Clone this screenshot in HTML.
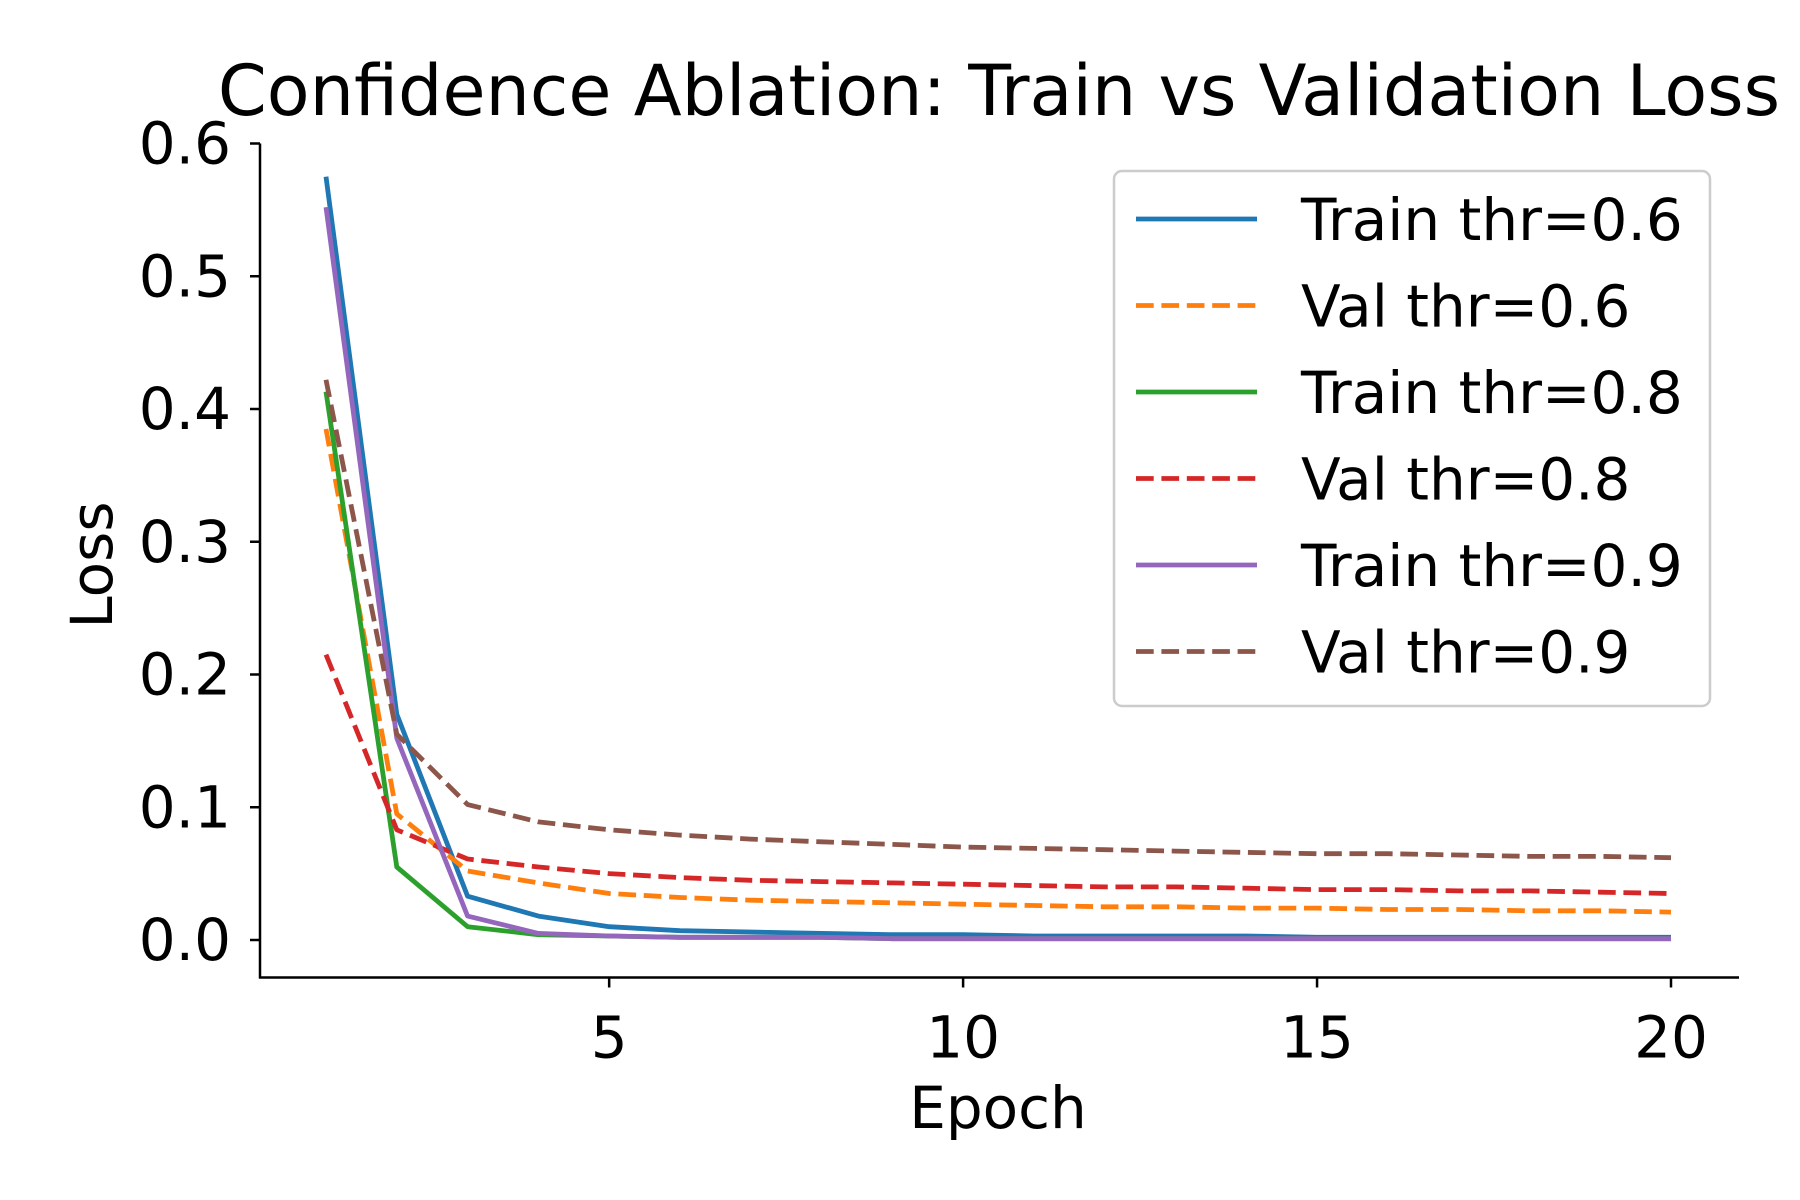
<!DOCTYPE html>
<html><head><meta charset="utf-8"><style>
html,body{margin:0;padding:0;background:#fff}
svg{display:block;font-family:"DejaVu Sans","Liberation Sans",sans-serif}
</style></head><body>
<svg id="chart" width="1800" height="1200" viewBox="0 0 1800 1200" xmlns="http://www.w3.org/2000/svg">
<rect width="1800" height="1200" fill="#fff"/>
<text x="999" y="115" font-size="70" text-anchor="middle" fill="#000">Confidence Ablation: Train vs Validation Loss</text>
<g id="axes"></g>
<g id="lines"></g>
<g id="legend"></g>
</svg>
<script>
const epochs = [1,2,3,4,5,6,7,8,9,10,11,12,13,14,15,16,17,18,19,20];
const train06 = [0.575,0.17,0.033,0.018,0.010,0.007,0.006,0.005,0.004,0.004,0.003,0.003,0.003,0.003,0.002,0.002,0.002,0.002,0.002,0.002];
const val06 = [0.385,0.095,0.052,0.043,0.035,0.032,0.030,0.029,0.028,0.027,0.026,0.025,0.025,0.024,0.024,0.023,0.023,0.022,0.022,0.021];
const train08 = [0.413,0.055,0.010,0.004,0.003,0.002,0.002,0.002,0.001,0.001,0.001,0.001,0.001,0.001,0.001,0.001,0.001,0.001,0.001,0.001];
const val08 = [0.215,0.083,0.061,0.055,0.050,0.047,0.045,0.044,0.043,0.042,0.041,0.040,0.040,0.039,0.038,0.038,0.037,0.037,0.036,0.035];
const train09 = [0.552,0.152,0.018,0.005,0.003,0.002,0.002,0.002,0.001,0.001,0.001,0.001,0.001,0.001,0.001,0.001,0.001,0.001,0.001,0.001];
const val09 = [0.422,0.155,0.102,0.089,0.083,0.079,0.076,0.074,0.072,0.070,0.069,0.068,0.067,0.066,0.065,0.065,0.064,0.063,0.063,0.062];
const xTicks = [5,10,15,20];
const yTicks = [0.0,0.1,0.2,0.3,0.4,0.5,0.6];
const seriesNames = ["Train thr=0.6","Val thr=0.6","Train thr=0.8","Val thr=0.8","Train thr=0.9","Val thr=0.9"];

const NS = "http://www.w3.org/2000/svg";
const X0=260, X1=1739, Y0=977.5, Y1=143.5;
function xs(v){ return 326 + (v-1)*(1671-326)/19; }
function ys(v){ return 940 - v*(940-143.5)/0.6; }
function mk(tag, attrs, parent){ const e=document.createElementNS(NS,tag); for(const k in attrs) e.setAttribute(k,attrs[k]); parent.appendChild(e); return e; }

const axes=document.getElementById('axes');
let e;
e=mk('line',{x1:X0,y1:Y1,x2:X0,y2:Y0+1,stroke:'#000','stroke-width':2.5},axes);


e=mk('line',{x1:X0-1,y1:Y0,x2:X1,y2:Y0,stroke:'#000','stroke-width':2.5},axes);


yTicks.forEach(t=>{
  const y=ys(t);
  mk('line',{x1:X0-10,y1:y,x2:X0,y2:y,stroke:'#000','stroke-width':2.5},axes);
  const tx=mk('text',{x:X0-29,y:y+20,'font-size':58,'text-anchor':'end',fill:'#000'},axes);
  tx.textContent=t.toFixed(1);
  
  
});
xTicks.forEach(t=>{
  const x=xs(t);
  mk('line',{x1:x,y1:Y0,x2:x,y2:Y0+10,stroke:'#000','stroke-width':2.5},axes);
  const tx=mk('text',{x:x,y:Y0+80,'font-size':58,'text-anchor':'middle',fill:'#000'},axes);
  tx.textContent=t;
  
  
});
e=mk('text',{x:998,y:1128,'font-size':58,'text-anchor':'middle',fill:'#000'},axes);
e.textContent='Epoch';


e=mk('text',{x:0,y:0,'font-size':58,'text-anchor':'middle',fill:'#000',transform:'translate(112,565) rotate(-90)'},axes);
e.textContent='Loss';



const series=[train06,val06,train08,val08,train09,val09];
const colors=['#1f77b4','#ff7f0e','#2ca02c','#d62728','#9467bd','#8c564b'];
const dashed=[false,true,false,true,false,true];
const lines=document.getElementById('lines');
series.forEach((s,i)=>{
  const d=s.map((v,j)=>(j?'L':'M')+xs(epochs[j]).toFixed(1)+','+ys(v).toFixed(1)).join(' ');
  const p=mk('path',{d:d,fill:'none',stroke:colors[i],'stroke-width':4.8,'stroke-linejoin':'round'},lines);
  if(dashed[i]) p.setAttribute('stroke-dasharray','17.7 7.7');
  
  
});

const lg=document.getElementById('legend');
e=mk('rect',{x:1114,y:171,width:596,height:535,rx:8,fill:'#fff','fill-opacity':0.8,stroke:'#ccc','stroke-width':2.5},lg);


seriesNames.forEach((n,i)=>{
  const y=219+i*86.5;
  const l=mk('line',{x1:1136,y1:y,x2:1257,y2:y,stroke:colors[i],'stroke-width':4.8},lg);
  if(dashed[i]) l.setAttribute('stroke-dasharray','17.7 7.7');
  const t=mk('text',{x:1301,y:y+21,'font-size':58,fill:'#000'},lg);
  t.textContent=n;
  
  
});
</script>
</body></html>
